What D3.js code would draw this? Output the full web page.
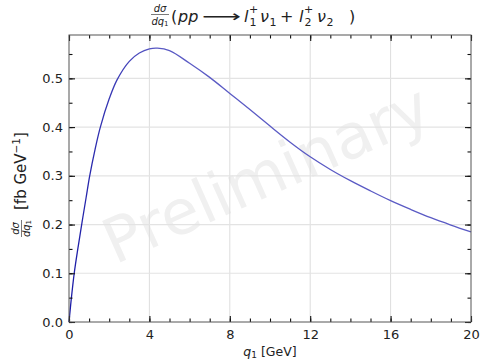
<!DOCTYPE html>
<html><head><meta charset="utf-8">
<script src="https://cdn.jsdelivr.net/npm/d3@7"></script>
<style>
html,body{margin:0;padding:0;background:#fff;}
svg{display:block;font-family:"DejaVu Sans",sans-serif;}
</style></head>
<body><svg id="c" width="480" height="361"></svg>
<script>
// Data
const q1 = [0, 0.1, 0.26, 0.45, 0.65, 0.85, 1.03, 1.3, 1.56, 2.0, 2.39, 3.0, 3.5, 4.0, 4.4, 5, 6, 7, 8, 9, 10, 11, 12, 13, 14, 15, 16, 17, 18, 19, 20];
const dsigma = [0, 0.042, 0.1, 0.153, 0.205, 0.255, 0.3, 0.355, 0.4, 0.458, 0.497, 0.535, 0.552, 0.5605, 0.562, 0.557, 0.531, 0.502, 0.469, 0.436, 0.402, 0.369, 0.339, 0.313, 0.290, 0.269, 0.249, 0.231, 0.214, 0.199, 0.185];
const xMajorTicks = [0, 4, 8, 12, 16, 20];
const yMajorTicks = [0.0, 0.1, 0.2, 0.3, 0.4, 0.5];

const svg = d3.select("#c");
const L = 69, R = 471, T = 35, B = 322;
const x = d3.scaleLinear().domain([0, 20]).range([L, R]);
const y = d3.scaleLinear().domain([0, 0.589]).range([B, T]);

// watermark
svg.append("text")
  .attr("transform", "translate(268,178) rotate(-24)")
  .attr("text-anchor", "middle").attr("dominant-baseline", "middle")
  .attr("font-size", 62).attr("fill", "#f0f0f0")
  .text("Preliminary");

// grid
const g = svg.append("g");
g.selectAll(".gx").data(xMajorTicks.slice(1, -1)).join("line")
  .attr("x1", d => x(d)).attr("x2", d => x(d)).attr("y1", T).attr("y2", B)
  .attr("stroke", "#d9d9d9").attr("stroke-width", 0.9);
g.selectAll(".gy").data(yMajorTicks.slice(1)).join("line")
  .attr("y1", d => y(d)).attr("y2", d => y(d)).attr("x1", L).attr("x2", R)
  .attr("stroke", "#e3e3e3").attr("stroke-width", 1.2);

// curve
const defs = svg.append("defs");
const grad = defs.append("linearGradient").attr("id", "lg")
  .attr("gradientUnits", "userSpaceOnUse")
  .attr("x1", L).attr("x2", L + 90).attr("y1", 0).attr("y2", 0);
grad.append("stop").attr("offset", 0).attr("stop-color", "#1a1aa6");
grad.append("stop").attr("offset", 1).attr("stop-color", "#5a5ac4");

const line = d3.line().x((d, i) => x(q1[i])).y(d => y(d)).curve(d3.curveCatmullRom.alpha(0.5));
svg.append("path").attr("d", line(dsigma))
  .attr("fill", "none").attr("stroke", "url(#lg)").attr("stroke-width", 1.3);

// axes with inward ticks on all sides
const fmtY = d3.format(".1f");
const axB = d3.axisBottom(x).tickValues(xMajorTicks).tickSizeInner(-6).tickSizeOuter(0).tickPadding(8).tickFormat(d3.format("d"));
const axT = d3.axisTop(x).tickValues(xMajorTicks).tickSizeInner(-6).tickSizeOuter(0).tickFormat("");
const axL = d3.axisLeft(y).tickValues(yMajorTicks).tickSizeInner(-6).tickSizeOuter(0).tickPadding(6).tickFormat(fmtY);
const axRt = d3.axisRight(y).tickValues(yMajorTicks).tickSizeInner(-6).tickSizeOuter(0).tickFormat("");
const xMinor = d3.range(0, 20.01, 1);
const yMinor = d3.range(0, 0.58, 0.05);
const mB = d3.axisBottom(x).tickValues(xMinor).tickSizeInner(-3.5).tickSizeOuter(0).tickFormat("");
const mT = d3.axisTop(x).tickValues(xMinor).tickSizeInner(-3.5).tickSizeOuter(0).tickFormat("");
const mL = d3.axisLeft(y).tickValues(yMinor).tickSizeInner(-3.5).tickSizeOuter(0).tickFormat("");
const mR = d3.axisRight(y).tickValues(yMinor).tickSizeInner(-3.5).tickSizeOuter(0).tickFormat("");

function style(sel) {
  sel.selectAll(".domain").remove();
  sel.selectAll("line").attr("stroke", "#111").attr("stroke-width", 1.1);
  sel.selectAll("text").attr("font-size", 13).attr("fill", "#222").attr("font-family", "DejaVu Sans");
}
[ [mB, `translate(0,${B})`], [mT, `translate(0,${T})`], [mL, `translate(${L},0)`], [mR, `translate(${R},0)`],
  [axB, `translate(0,${B})`], [axT, `translate(0,${T})`], [axL, `translate(${L},0)`], [axRt, `translate(${R},0)`]
].forEach(([a, t]) => { const s = svg.append("g").attr("transform", t).call(a); style(s); });

// frame
svg.append("rect").attr("x", L).attr("y", T).attr("width", R - L).attr("height", B - T)
  .attr("fill", "none").attr("stroke", "#555").attr("stroke-width", 1);

// x label
const xl = svg.append("text").attr("x", 270).attr("y", 356).attr("text-anchor", "middle")
  .attr("font-size", 12.5).attr("fill", "#222");
xl.append("tspan").attr("font-style", "italic").text("q");
xl.append("tspan").attr("font-size", 9).attr("dy", 2).text("1");
xl.append("tspan").attr("dy", -2).text(" [GeV]");

// y label
const fr = svg.append("g").attr("transform", "translate(21.5,228.5) rotate(-90)");
fr.append("text").attr("x", 0).attr("y", -2.5).attr("text-anchor", "middle").attr("font-size", 10).attr("font-style", "italic").attr("fill", "#222").text("dσ");
fr.append("line").attr("x1", -8.5).attr("x2", 8.5).attr("y1", 0).attr("y2", 0).attr("stroke", "#222").attr("stroke-width", 0.6);
const dq = fr.append("text").attr("x", 0).attr("y", 8).attr("text-anchor", "middle").attr("font-size", 10).attr("font-style", "italic").attr("fill", "#222");
dq.append("tspan").text("dq");
dq.append("tspan").attr("font-size", 7).attr("font-style", "normal").attr("dy", 1.5).text("1");
const yt = svg.append("text").attr("transform", "translate(25.5,210) rotate(-90)")
  .attr("text-anchor", "start").attr("font-size", 15).attr("fill", "#222");
yt.append("tspan").text("[fb GeV");
yt.append("tspan").attr("font-size", 10.5).attr("dy", -6).text("−1");
yt.append("tspan").attr("dy", 6).text("]");

// title (math-style layout)
const tg = svg.append("g").attr("transform", "translate(160,0)");
tg.append("text").attr("x", 0).attr("y", 12).attr("text-anchor", "middle").attr("font-size", 10).attr("font-style", "italic").attr("fill", "#222").text("dσ");
tg.append("line").attr("x1", -9).attr("x2", 9).attr("y1", 14.5).attr("y2", 14.5).attr("stroke", "#222").attr("stroke-width", 0.6);
const tq = tg.append("text").attr("x", 0).attr("y", 24.5).attr("text-anchor", "middle").attr("font-size", 10).attr("font-style", "italic").attr("fill", "#222");
tq.append("tspan").text("dq");
tq.append("tspan").attr("font-size", 7).attr("font-style", "normal").attr("dy", 1.5).text("1");

const base = 22;
function put(px, t, opts = {}) {
  svg.append("text").attr("x", px).attr("y", base + (opts.dy || 0))
    .attr("font-size", opts.size || 16).attr("fill", "#222")
    .attr("font-style", opts.italic ? "italic" : "normal")
    .attr("textLength", opts.len || null)
    .attr("lengthAdjust", opts.len ? "spacingAndGlyphs" : null)
    .text(t);
}
put(171, "(");
put(178, "pp", {italic: true});
put(202, "⟶", {len: 39});
put(244, "l", {italic: true});
put(249, "+", {size: 11, dy: -9});
put(249.5, "1", {size: 11, dy: 4});
put(260, "ν", {italic: true});
put(269.5, "1", {size: 11, dy: 4});
put(280, "+");
put(299, "l", {italic: true});
put(304, "+", {size: 11, dy: -9});
put(304.5, "2", {size: 11, dy: 4});
put(317, "ν", {italic: true});
put(326.5, "2", {size: 11, dy: 4});
put(349, ")");
</script></body></html>
